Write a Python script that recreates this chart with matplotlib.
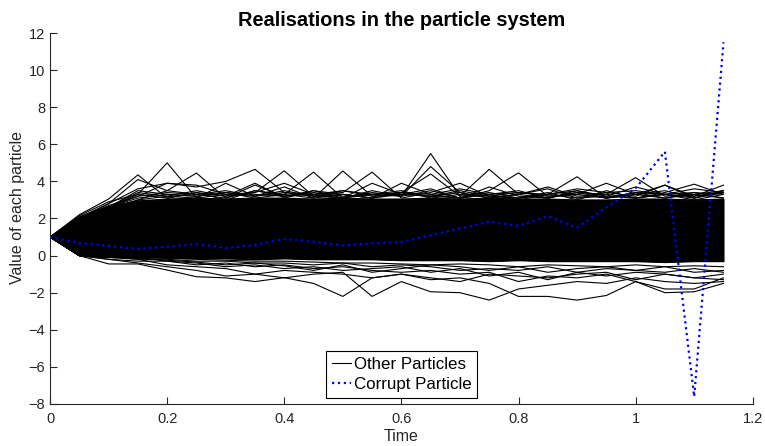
import numpy as np
import matplotlib
matplotlib.use('Agg')
import matplotlib.pyplot as plt

plt.rcParams['font.family'] = ['Liberation Sans', 'DejaVu Sans']

# time grid of the particle system
time = [0, 0.05, 0.1, 0.15, 0.2, 0.25, 0.3, 0.35, 0.4, 0.45, 0.5, 0.55,
        0.6, 0.65, 0.7, 0.75, 0.8, 0.85, 0.9, 0.95, 1.0, 1.05, 1.1, 1.15]

# dense core of the other particles (upper / lower edge of the black mass)
core_top = [1, 2.1, 2.65, 2.95, 3.05, 3.1, 3.05, 3.1, 3.1, 3.05, 3.1, 3.05,
            3.05, 3.1, 3.05, 3.1, 3.05, 3.05, 3.0, 3.0, 3.05, 3.05, 3.0, 3.05]
core_bot = [1, 0.0, -0.05, -0.1, -0.1, -0.15, -0.15, -0.2, -0.15, -0.2, -0.2, -0.2,
            -0.25, -0.25, -0.25, -0.3, -0.25, -0.3, -0.3, -0.3, -0.3, -0.35, -0.3, -0.3]

# outlying particles above the core
up1 = [1, 2.2, 3.05, 4.35, 3.1, 3.4, 3.0, 3.5, 3.2, 3.3, 3.1, 3.3, 3.2, 3.5, 3.1, 3.3, 3.0, 3.3, 3.1, 3.2, 3.1, 3.3, 3.1, 3.4]
up2 = [1, 2.15, 2.9, 3.3, 5.0, 3.1, 3.9, 3.2, 3.7, 3.1, 3.3, 3.1, 3.4, 3.2, 3.5, 3.2, 3.1, 3.4, 3.0, 3.5, 3.1, 3.3, 3.0, 3.3]
up3 = [1, 2.05, 2.8, 4.1, 3.5, 4.45, 3.1, 3.8, 3.2, 3.5, 3.1, 3.9, 3.3, 3.6, 3.1, 3.7, 3.2, 3.1, 3.5, 3.2, 3.7, 3.3, 3.4, 3.1]
up4 = [1, 2.0, 2.7, 3.2, 3.9, 3.7, 4.0, 4.65, 3.4, 3.2, 3.5, 3.2, 3.3, 3.2, 3.1, 3.3, 3.5, 3.1, 3.4, 3.1, 3.3, 3.5, 3.1, 3.5]
up5 = [1, 1.95, 2.6, 3.4, 3.2, 3.5, 3.2, 3.4, 4.57, 3.2, 3.1, 3.4, 3.2, 5.5, 3.2, 3.4, 3.1, 3.3, 3.5, 3.1, 3.4, 3.1, 3.3, 3.1]
up6 = [1, 1.9, 2.6, 3.1, 3.3, 3.2, 3.4, 3.1, 3.3, 4.5, 3.1, 3.5, 3.2, 4.8, 3.4, 3.1, 3.3, 3.6, 3.1, 3.4, 3.2, 3.8, 3.1, 3.5]
up7 = [1, 1.9, 2.6, 3.2, 3.4, 3.3, 3.1, 3.5, 3.3, 3.1, 4.56, 3.2, 3.4, 4.4, 3.2, 4.65, 3.3, 3.1, 3.4, 3.3, 3.1, 3.4, 3.85, 3.3]
up8 = [1, 1.85, 2.5, 3.0, 3.5, 3.3, 3.5, 3.2, 3.4, 3.3, 3.4, 4.5, 3.1, 3.4, 3.9, 3.2, 3.1, 3.3, 4.25, 3.1, 3.4, 3.3, 3.2, 3.8]
up9 = [1, 1.85, 2.6, 3.3, 3.1, 3.4, 3.2, 3.9, 3.1, 3.5, 3.3, 3.1, 3.9, 3.3, 3.1, 3.5, 4.46, 3.2, 3.3, 3.9, 3.3, 3.1, 3.4, 3.3]
up10 = [1, 1.8, 2.5, 3.0, 3.2, 3.1, 3.3, 3.2, 3.5, 3.2, 3.3, 3.1, 3.3, 3.2, 3.4, 3.1, 3.3, 3.7, 3.2, 3.3, 4.2, 3.2, 3.3, 3.5]
up11 = [1, 1.8, 2.6, 3.5, 3.3, 3.2, 3.4, 3.3, 3.2, 3.4, 3.2, 3.3, 3.5, 3.1, 3.3, 3.2, 3.4, 3.2, 3.3, 3.1, 3.3, 3.8, 3.2, 3.4]
up12 = [1, 2.0, 2.8, 3.6, 3.9, 3.8, 3.3, 3.4, 3.9, 3.3, 3.5, 3.3, 3.4, 3.3, 3.6, 3.3, 3.4, 3.3, 3.6, 3.4, 3.5, 3.3, 3.6, 3.4]

# outlying particles below the core
lo1 = [1, 0.0, -0.45, -0.45, -0.78, -1.14, -1.2, -1.4, -1.19, -1.5, -2.2, -1.2, -1.0, -1.2, -1.4, -1.0, -1.1, -1.2, -1.0, -0.9, -1.3, -1.0, -1.2, -1.3]
lo2 = [1, 0.0, -0.2, -0.4, -0.6, -0.8, -1.1, -1.0, -1.2, -1.0, -0.9, -2.2, -1.4, -1.95, -2.0, -2.4, -1.8, -1.6, -1.4, -1.5, -1.2, -1.4, -1.5, -1.4]
lo3 = [1, 0.0, -0.1, -0.2, -0.5, -0.6, -0.7, -1.0, -0.8, -0.9, -1.0, -1.2, -1.0, -1.3, -1.2, -1.5, -2.2, -2.2, -2.4, -2.15, -1.4, -2.0, -1.95, -1.5]
lo4 = [1, 0.0, -0.2, -0.3, -0.3, -0.5, -0.4, -0.6, -0.5, -0.7, -0.6, -0.8, -0.9, -0.8, -1.0, -0.9, -1.4, -1.1, -1.2, -1.0, -1.4, -1.8, -1.8, -1.2]
lo5 = [1, 0.0, -0.1, -0.1, -0.3, -0.4, -0.6, -0.5, -0.7, -0.6, -0.8, -0.7, -0.6, -0.9, -0.7, -1.1, -0.9, -1.3, -0.9, -1.1, -0.9, -1.0, -1.2, -1.0]
lo6 = [1, 0.0, -0.05, -0.2, -0.2, -0.3, -0.3, -0.4, -0.4, -0.5, -0.4, -0.6, -0.5, -0.6, -0.8, -0.7, -0.8, -0.6, -0.9, -0.7, -0.8, -0.9, -0.7, -0.9]
lo7 = [1, 0.0, -0.1, -0.15, -0.25, -0.35, -0.5, -0.4, -0.55, -0.8, -0.5, -0.9, -0.7, -0.5, -0.6, -0.8, -0.6, -0.9, -0.7, -0.6, -0.8, -0.6, -0.9, -0.8]
lo8 = [1, 0.0, -0.05, -0.1, -0.15, -0.2, -0.25, -0.3, -0.3, -0.35, -0.4, -0.4, -0.45, -0.5, -0.45, -0.5, -0.6, -0.5, -0.55, -0.6, -0.5, -0.6, -0.55, -0.6]

# the corrupt particle
corrupt = [1, 0.68, 0.52, 0.36, 0.48, 0.62, 0.41, 0.57, 0.9, 0.75, 0.54, 0.66,
           0.73, 1.1, 1.45, 1.83, 1.6, 2.13, 1.5, 2.6, 3.63, 5.6, -7.6, 11.5]

others = [up1, up2, up3, up4, up5, up6, up7, up8, up9, up10, up11, up12,
          lo1, lo2, lo3, lo4, lo5, lo6, lo7, lo8]

fig = plt.figure(figsize=(7.65, 4.46), dpi=100)
ax = fig.add_axes([0.0654, 0.0942, 0.9186, 0.8318])

ax.fill_between(time, core_bot, core_top, color='black', lw=0.8)
h_other, = ax.plot(time, core_top, color='black', lw=0.8)
ax.plot(time, core_bot, color='black', lw=0.8)
for p in others:
    ax.plot(time, p, color='black', lw=0.8)
h_corr, = ax.plot(time, corrupt, color='blue', ls=':', lw=1.6)

ax.set_xlim(0, 1.2)
ax.set_ylim(-8, 12)
ax.set_xticks([0, 0.2, 0.4, 0.6, 0.8, 1, 1.2])
ax.set_xticklabels(['0', '0.2', '0.4', '0.6', '0.8', '1', '1.2'])
ax.set_yticks(np.arange(-8, 13, 2))
for s in ['top', 'right']:
    ax.spines[s].set_visible(False)
for s in ['left', 'bottom']:
    ax.spines[s].set_color('#262626')
    ax.spines[s].set_linewidth(0.8)
ax.tick_params(direction='in', length=5, width=0.8, colors='#262626', labelsize=10.5)
ax.tick_params(axis='x', pad=6)

ax.set_title('Realisations in the particle system', fontsize=14.4, fontweight='bold', pad=5)
ax.set_xlabel('Time', fontsize=11.5, color='#262626', labelpad=2)
ax.set_ylabel('Value of each particle', fontsize=11.5, color='#262626')
ax.yaxis.set_label_coords(-0.036, 0.53)

leg = ax.legend([h_other, h_corr], ['Other Particles', 'Corrupt Particle'],
                loc='lower center', bbox_to_anchor=(0.5, 0.016), fontsize=12.2,
                fancybox=False, framealpha=1, edgecolor='black',
                handlelength=1.15, handletextpad=0.15, borderpad=0.35,
                labelspacing=0.3, borderaxespad=0)
leg.get_frame().set_linewidth(0.8)

fig.savefig('out.png', dpi=100)
